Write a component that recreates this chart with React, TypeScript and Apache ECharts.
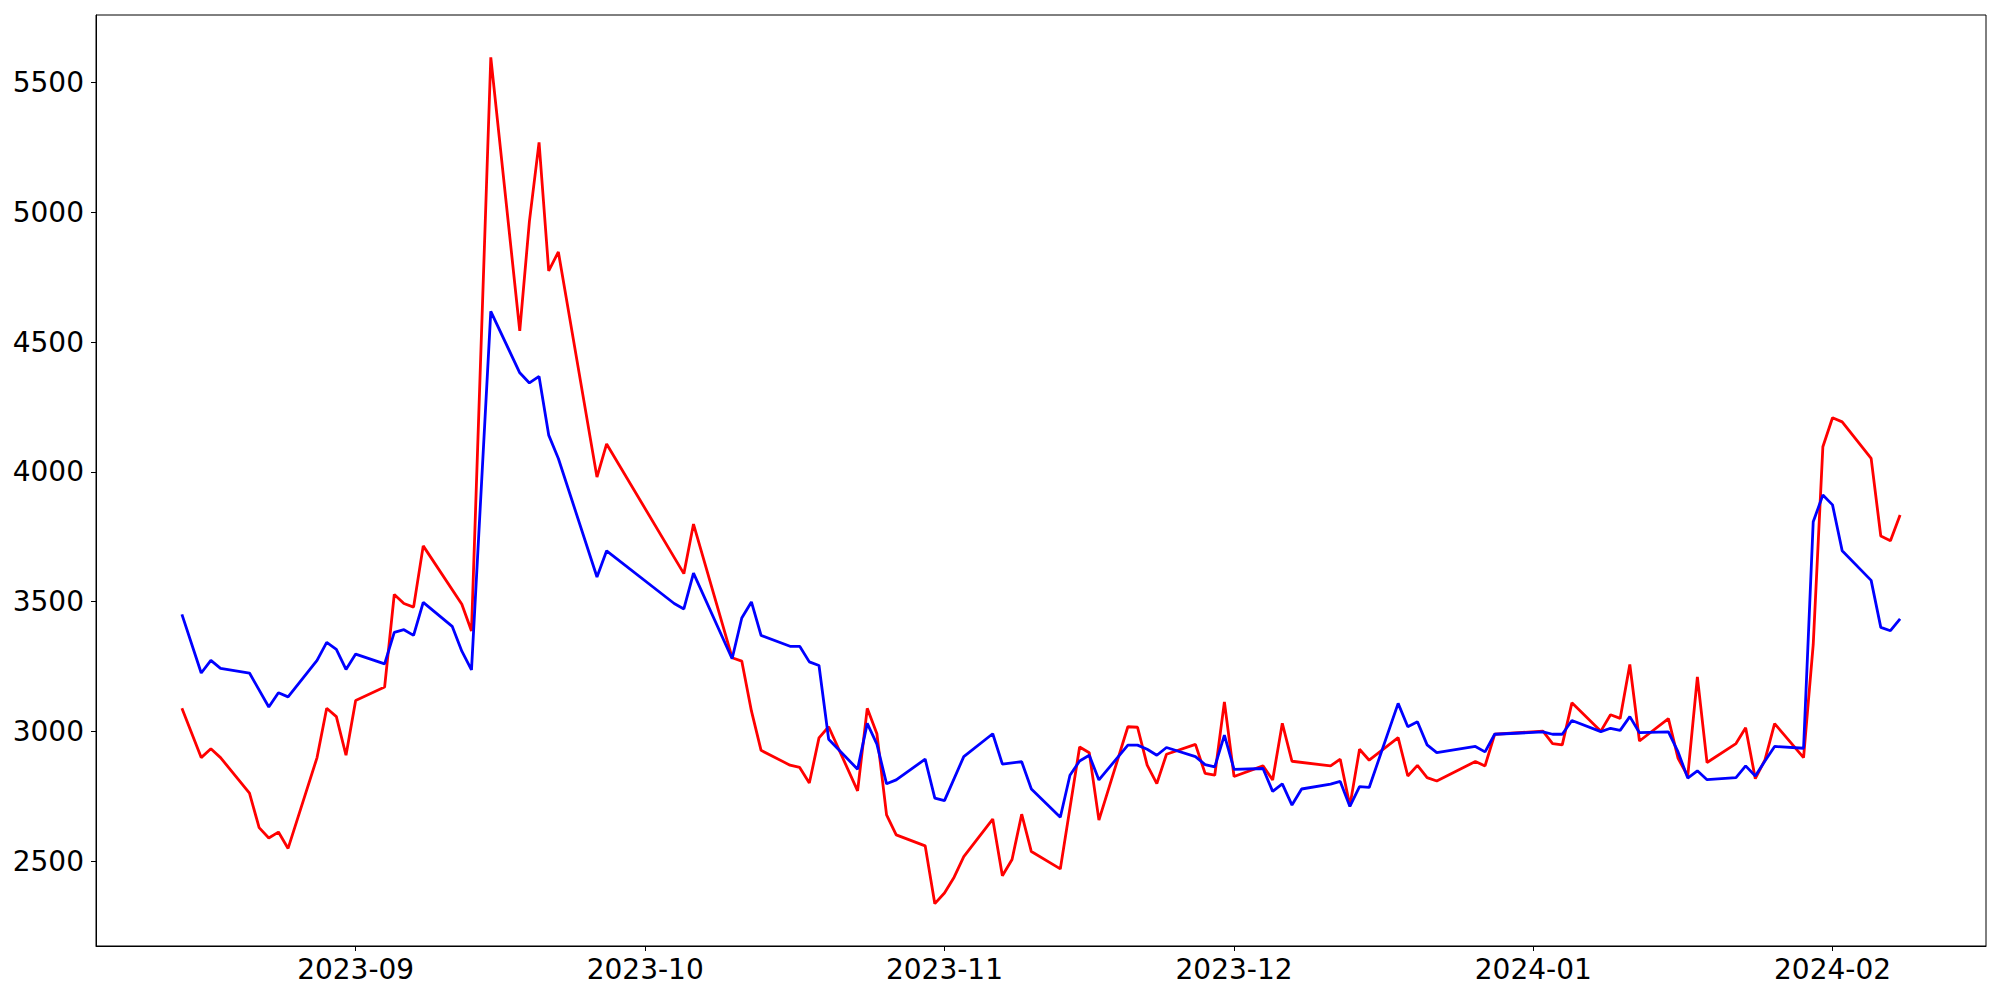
import React, { useEffect, useRef } from "react";
import * as echarts from "echarts";

// Trading dates (YYYY-MM-DD)
const dates = [
  "2023-08-14", "2023-08-16", "2023-08-17", "2023-08-18", "2023-08-21", "2023-08-22", "2023-08-23", "2023-08-24", "2023-08-25",
  "2023-08-28", "2023-08-29", "2023-08-30", "2023-08-31", "2023-09-01",
  "2023-09-04", "2023-09-05", "2023-09-06", "2023-09-07", "2023-09-08",
  "2023-09-11", "2023-09-12", "2023-09-13", "2023-09-15",
  "2023-09-18", "2023-09-19", "2023-09-20", "2023-09-21", "2023-09-22",
  "2023-09-26", "2023-09-27", "2023-10-04", "2023-10-05", "2023-10-06",
  "2023-10-10", "2023-10-11", "2023-10-12", "2023-10-13",
  "2023-10-16", "2023-10-17", "2023-10-18", "2023-10-19", "2023-10-20",
  "2023-10-23", "2023-10-24", "2023-10-25", "2023-10-26", "2023-10-27",
  "2023-10-30", "2023-10-31", "2023-11-01", "2023-11-02", "2023-11-03",
  "2023-11-06", "2023-11-07", "2023-11-08", "2023-11-09", "2023-11-10",
  "2023-11-13", "2023-11-14", "2023-11-15", "2023-11-16", "2023-11-17",
  "2023-11-20", "2023-11-21", "2023-11-22", "2023-11-23", "2023-11-24",
  "2023-11-27", "2023-11-28", "2023-11-29", "2023-11-30", "2023-12-01",
  "2023-12-04", "2023-12-05", "2023-12-06", "2023-12-07", "2023-12-08",
  "2023-12-11", "2023-12-12", "2023-12-13", "2023-12-14", "2023-12-15",
  "2023-12-18", "2023-12-19", "2023-12-20", "2023-12-21", "2023-12-22",
  "2023-12-26", "2023-12-27", "2023-12-28",
  "2024-01-02", "2024-01-03", "2024-01-04", "2024-01-05",
  "2024-01-08", "2024-01-09", "2024-01-10", "2024-01-11", "2024-01-12",
  "2024-01-15", "2024-01-16", "2024-01-17", "2024-01-18", "2024-01-19",
  "2024-01-22", "2024-01-23", "2024-01-24", "2024-01-25", "2024-01-26",
  "2024-01-29", "2024-01-30", "2024-01-31", "2024-02-01", "2024-02-02",
  "2024-02-05", "2024-02-06", "2024-02-07", "2024-02-08",
];

const redValues: (number | null)[] = [
  3089, 2899, 2933, 2899, 2762, 2629, 2589, 2612, 2549,
  2899, 3089, 3057, 2908, 3119,
  3171, 3528, 3493, 3479, 3715,
  null, 3490, 3387, 5598,
  4544, 4966, 5270, 4775, 4848,
  3980, 4108, null, 3608, 3799,
  3284, 3271, 3079, 2927,
  2870, 2861, 2801, 2975, 3018,
  2771, 3089, 2991, 2678, 2601,
  2559, 2336, 2377, 2438, 2517,
  2662, 2444, 2506, 2681, 2537,
  2470, null, 2940, 2918, 2658,
  3018, 3016, 2870, 2799, 2912,
  2950, 2838, 2831, 3114, 2826,
  2867, 2813, 3031, 2885, null,
  2867, 2893, 2713, 2931, 2889,
  2976, 2828, 2869, 2822, 2809,
  2884, 2867, 2989,
  3001, 2953, 2948, 3110,
  3001, 3064, 3050, 3258, 2963,
  3049, 2896, 2828, 3210, 2880,
  2953, 3014, 2818, 2890, 3030,
  2899, 3334, 4097, 4209, 4193,
  4052, 3753, 3735, 3834,
];

const blueValues: (number | null)[] = [
  3451, 3225, 3274, 3243, 3225, null, 3094, 3149, 3133,
  3274, 3343, 3316, 3239, 3298,
  3260, 3382, 3392, 3370, 3497,
  3405, 3309, 3237, 4619,
  4382, 4343, 4368, 4142, 4052,
  3595, 3696, 3493, 3472, 3610,
  3280, 3437, 3499, 3370,
  3328, 3328, 3268, 3254, 2970,
  2854, 3031, 2951, 2798, 2813,
  2893, 2743, 2733, null, 2903,
  2991, 2874, null, 2883, 2778,
  2669, 2831, 2886, 2908, 2813,
  2947, 2947, 2931, 2908, 2938,
  2903, 2872, 2863, 2986, 2854,
  2857, 2769, 2798, 2716, 2778,
  2797, 2807, 2711, 2787, 2784,
  3108, 3018, 3037, 2948, 2918,
  2942, 2921, 2989,
  2998, 2989, 2989, 3042,
  2999, 3012, 3004, 3057, 2995,
  2998, 2921, 2820, 2848, 2814,
  2822, 2867, 2828, 2886, 2942,
  2935, 3808, 3911, 3873, 3696,
  3582, 3401, 3388, 3434,
];

const xTickLabels = ["2023-09", "2023-10", "2023-11", "2023-12", "2024-01", "2024-02"];
const yTickValues = [2500, 3000, 3500, 4000, 4500, 5000, 5500];

function toTs(s: string): number {
  const p = s.split("-").map(Number);
  return Date.UTC(p[0], p[1] - 1, p[2] || 1);
}

export default function App() {
  const ref = useRef<HTMLDivElement>(null);

  useEffect(() => {
    document.body.style.margin = "0";
    if (!ref.current) return;
    const chart = echarts.init(ref.current, null, { renderer: "svg" });

    const ts = dates.map(toTs);
    const redData = ts
      .map((t, i) => [t, redValues[i]])
      .filter((d) => d[1] !== null);
    const blueData = ts
      .map((t, i) => [t, blueValues[i]])
      .filter((d) => d[1] !== null);

    const xSpan = ts[ts.length - 1] - ts[0];
    const xMin = ts[0] - 0.05 * xSpan;
    const xMax = ts[ts.length - 1] + 0.05 * xSpan;

    const allVals = [...redValues, ...blueValues].filter((v) => v !== null) as number[];
    const vMin = Math.min(...allVals);
    const vMax = Math.max(...allVals);
    const ySpan = vMax - vMin;
    const yMin = vMin - 0.05 * ySpan;
    const yMax = vMax + 0.05 * ySpan;

    const xTickValues = xTickLabels.map(toTs);
    const labelFor = (v: number) => {
      let best = -1;
      let bestD = Infinity;
      xTickValues.forEach((t, i) => {
        const d = Math.abs(t - v);
        if (d < bestD) {
          bestD = d;
          best = i;
        }
      });
      return best >= 0 && bestD < 3600000 ? xTickLabels[best] : "";
    };

    const font = { fontFamily: "DejaVu Sans", fontSize: 28, color: "#000" };

    chart.setOption({
      animation: false,
      backgroundColor: "#fff",
      grid: {
        left: 96,
        right: 14,
        top: 15,
        bottom: 54,
        show: true,
        borderColor: "#000",
        borderWidth: 1,
        backgroundColor: "transparent",
      },
      xAxis: {
        type: "value",
        min: xMin,
        max: xMax,
        axisLine: { show: true, lineStyle: { color: "#000", width: 1 } },
        axisTick: {
          show: true,
          customValues: xTickValues,
          length: 5,
          lineStyle: { color: "#000", width: 1 },
        },
        axisLabel: {
          customValues: xTickValues,
          formatter: (v: number) => labelFor(v),
          margin: 9,
          ...font,
        },
        splitLine: { show: false },
      },
      yAxis: {
        type: "value",
        min: yMin,
        max: yMax,
        axisLine: { show: true, lineStyle: { color: "#000", width: 1 } },
        axisTick: {
          show: true,
          customValues: yTickValues,
          length: 5,
          lineStyle: { color: "#000", width: 1 },
        },
        axisLabel: {
          customValues: yTickValues,
          formatter: (v: number) => String(v),
          margin: 12,
          ...font,
        },
        splitLine: { show: false },
      },
      series: [
        {
          type: "line",
          data: redData,
          showSymbol: false,
          symbol: "none",
          lineStyle: { color: "#ff0000", width: 2.8 },
          itemStyle: { color: "#ff0000" },
        },
        {
          type: "line",
          data: blueData,
          showSymbol: false,
          symbol: "none",
          lineStyle: { color: "#0000ff", width: 2.8 },
          itemStyle: { color: "#0000ff" },
        },
      ],
    });

    return () => chart.dispose();
  }, []);

  return <div ref={ref} style={{ width: 2000, height: 1000 }} />;
}
